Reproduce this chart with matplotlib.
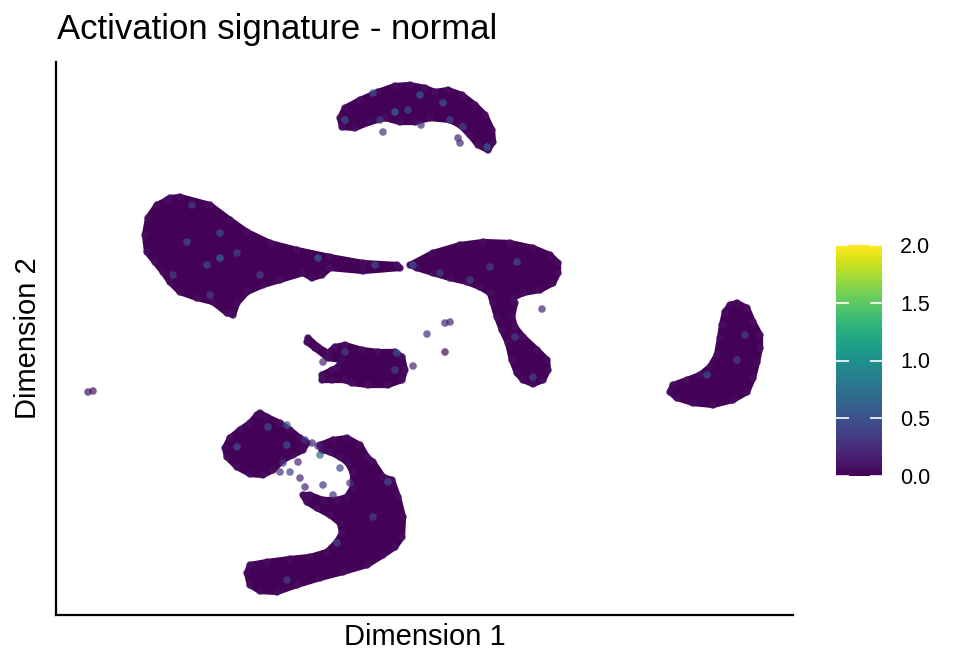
import numpy as np
import matplotlib
matplotlib.use("Agg")
import matplotlib.pyplot as plt
from matplotlib.colors import Normalize
from matplotlib.cm import ScalarMappable

# cluster outlines (Dimension 1, Dimension 2)
top_x = [28.4, 28.9, 30.4, 32.2, 33.9, 35.4, 36.9, 37.9, 39.2, 40.6, 41.9, 42.9, 43.6,
         43.7, 43.2, 42.2, 41.4, 40.4, 39.4, 37.4, 35.9, 34.4, 32.9, 31.4, 29.9, 28.6]
top_y = [49.7, 50.7, 51.5, 52.3, 52.9, 53.0, 52.7, 52.3, 52.5, 52.0, 51.0, 50.0, 48.5,
         47.3, 46.5, 47.0, 48.0, 49.0, 49.5, 49.7, 49.3, 49.3, 49.7, 49.3, 48.7, 48.8]

left_x = [11.4, 12.4, 15.4, 17.4, 19.1, 21.4, 24.1, 27.4, 30.7, 34.1, 34.4, 30.7, 27.4,
          26.6, 25.6, 24.7, 22.4, 20.7, 19.1, 18.1, 17.7, 17.1, 15.7, 14.1, 12.4, 11.4,
          10.7, 9.9, 9.1, 8.9, 9.2, 10.1, 11.1]
left_y = [41.7, 41.8, 41.0, 39.5, 38.3, 37.2, 36.5, 35.8, 35.2, 35.0, 34.7, 34.4, 34.7,
          34.0, 33.7, 34.2, 33.5, 33.0, 32.3, 31.2, 30.0, 30.2, 31.3, 31.7, 32.3, 33.3,
          34.3, 35.3, 36.3, 38.0, 39.7, 41.0, 41.5]

mush_x = [35.4, 37.7, 40.4, 42.7, 45.4, 47.7, 49.4, 50.2, 50.2, 49.7, 48.4, 46.7, 45.7,
          45.9, 45.6, 45.9, 46.7, 48.1, 49.1, 49.2, 48.7, 47.7, 46.7, 46.1, 45.6, 45.2,
          44.6, 44.1, 43.7, 43.4, 42.4, 41.1, 39.4, 37.7, 36.1]
mush_y = [35.0, 36.2, 37.0, 37.3, 37.2, 36.7, 36.0, 35.2, 34.2, 33.2, 32.5, 32.2, 31.7,
          31.2, 29.8, 28.8, 27.8, 26.5, 25.5, 24.5, 23.5, 23.1, 23.5, 24.2, 25.5, 27.2,
          28.5, 29.8, 31.2, 32.2, 32.8, 33.3, 33.7, 34.2, 34.7]

mid_x = [25.2, 26.2, 27.2, 27.9, 28.9, 30.6, 32.2, 33.9, 34.6, 34.9, 34.6, 33.2, 31.2,
         29.6, 28.9, 27.6, 26.6, 26.6, 27.6, 28.2, 28.6, 27.2, 25.9, 25.1]
mid_y = [27.7, 26.8, 26.2, 26.8, 27.0, 26.5, 26.3, 26.3, 25.8, 24.5, 23.5, 23.0, 23.0,
         23.2, 23.5, 23.5, 23.5, 24.0, 24.5, 24.8, 25.5, 25.7, 26.7, 27.3]

cres_x = [68.1, 69.1, 69.7, 70.4, 70.4, 70.1, 69.7, 69.1, 67.7, 65.7, 63.7, 62.1, 61.4,
          61.7, 63.1, 64.4, 65.4, 66.1, 66.4, 66.6, 66.9, 67.4]
cres_y = [31.2, 30.7, 29.3, 28.0, 26.7, 25.3, 23.7, 22.3, 21.5, 21.0, 21.2, 21.7, 22.3,
          23.0, 23.5, 24.0, 24.8, 26.0, 27.7, 29.0, 30.3, 31.0]

lobe_x = [20.4, 21.1, 22.4, 23.4, 24.4, 25.1, 24.7, 23.7, 22.7, 21.7, 20.7, 19.4, 18.1,
          17.1, 16.9, 17.4, 18.4, 19.4, 20.1]
lobe_y = [20.2, 19.8, 19.2, 18.5, 17.7, 17.2, 16.5, 16.0, 15.5, 14.5, 14.0, 14.1, 14.8,
          15.8, 16.7, 17.7, 18.5, 19.2, 20.0]

body_x = [26.4, 27.7, 29.1, 30.4, 31.1, 31.7, 32.7, 33.6, 34.2, 34.7, 34.6, 33.9, 32.7,
          31.1, 28.7, 26.4, 24.1, 22.1, 20.4, 19.4, 19.1, 19.4, 21.1, 23.4, 25.4, 27.1,
          28.1, 28.6, 28.4, 27.4, 26.1, 25.1, 24.7, 25.4, 26.7, 28.1, 29.1, 29.7, 29.7,
          29.2, 28.4, 27.4, 26.6]
body_y = [17.0, 17.5, 17.7, 17.0, 15.8, 15.3, 13.8, 13.5, 11.8, 9.8, 7.8, 6.8, 6.0,
          5.0, 4.3, 3.7, 3.0, 2.3, 2.4, 3.0, 4.2, 5.0, 5.3, 5.6, 5.8, 6.3, 7.3, 8.2,
          9.2, 10.0, 10.7, 11.3, 12.0, 12.0, 11.5, 11.5, 11.8, 12.8, 14.2, 15.2, 15.8,
          16.3, 16.5]

clusters_x = [top_x, left_x, mush_x, mid_x, cres_x, lobe_x, body_x]
clusters_y = [top_y, left_y, mush_y, mid_y, cres_y, lobe_y, body_y]
fill_score = 0.01
edge_score = 0.08

# single cells with their activation score
cell_x = [32.7, 36.5, 40.4, 40.2,
          36.4, 35.2, 38.7, 39.4, 32.4, 28.9, 40.7, 43.1, 31.7, 33.9,
          16.4, 15.1, 13.1, 11.7, 16.4, 20.4, 18.1, 13.6, 15.4, 31.9, 26.2,
          35.7, 46.1, 43.4, 38.4, 41.4, 47.7, 45.9,
          28.9, 34.1, 33.9,
          23.1, 18.1, 21.2, 23.1, 26.4, 28.4, 33.2, 31.7, 23.1, 28.1,
          68.9, 65.1, 68.1,
          37.1, 38.9, 39.4, 38.9, 35.7, 26.7, 48.6, 3.2, 3.7,
          24.9, 25.6, 26.2, 22.7, 22.4, 23.4, 24.2, 24.4, 24.9, 26.7, 27.7, 29.4]
cell_y = [48.3, 49.0, 47.2, 47.7,
          52.0, 50.5, 51.2, 49.5, 49.5, 49.5, 48.8, 46.8, 52.2, 50.3,
          35.7, 35.0, 37.3, 34.0, 38.2, 34.0, 36.2, 41.0, 32.0, 35.0, 35.7,
          35.0, 35.3, 34.8, 34.2, 33.5, 23.8, 27.8,
          26.3, 26.2, 24.5,
          19.0, 16.8, 18.8, 17.0, 16.0, 14.7, 13.3, 9.8, 3.5, 7.2,
          28.0, 24.0, 25.5,
          28.1, 29.2, 29.3, 26.3, 24.9, 25.3, 30.6, 22.3, 22.4,
          17.5, 17.2, 16.9, 15.2, 14.3, 14.3, 15.3, 13.7, 12.8, 13.0, 12.0, 13.2]
cell_score = [0.3, 0.3, 0.2, 0.2,
              0.6, 0.5, 0.5, 0.4, 0.4, 0.5, 0.4, 0.6, 0.5, 0.7,
              0.7, 0.5, 0.5, 0.4, 0.5, 0.4, 0.4, 0.4, 0.4, 0.5, 0.6,
              0.5, 0.5, 0.4, 0.4, 0.4, 0.4, 0.4,
              0.4, 0.5, 0.4,
              0.6, 0.5, 0.5, 0.5, 0.7, 0.4, 0.5, 0.4, 0.4, 0.4,
              0.4, 0.5, 0.4,
              0.3, 0.2, 0.2, 0.05, 0.2, 0.2, 0.2, 0.1, 0.1,
              0.3, 0.2, 0.2, 0.3, 0.3, 0.4, 0.2, 0.2, 0.2, 0.3, 0.3, 0.3]

cmap = plt.get_cmap("viridis")
norm = Normalize(vmin=0, vmax=2)

fig = plt.figure(figsize=(9.6, 6.72), dpi=100)
ax = fig.add_axes([56 / 960, 57 / 672, 737 / 960, 553 / 672])

for cx, cy in zip(clusters_x, clusters_y):
    # the stroke pads the outline by about half a dot, as the points do
    ax.fill(cx, cy, facecolor=cmap(norm(fill_score)), edgecolor=cmap(norm(fill_score)),
            lw=4.5, joinstyle="round", zorder=1)
    ax.scatter(cx, cy, c=[edge_score] * len(cx), cmap=cmap, norm=norm,
               s=30, alpha=0.7, lw=0, zorder=2)

ax.scatter(cell_x, cell_y, c=cell_score, cmap=cmap, norm=norm,
           s=30, alpha=0.7, lw=0, zorder=3)

ax.set_xlim(0, 73.7)
ax.set_ylim(0, 55.3)
ax.set_xticks([])
ax.set_yticks([])
for side in ["top", "right"]:
    ax.spines[side].set_visible(False)
for side in ["left", "bottom"]:
    ax.spines[side].set_linewidth(1.6)

ax.set_xlabel("Dimension 1", fontsize=21, family="Liberation Sans", labelpad=6)
ax.set_ylabel("Dimension 2", fontsize=21, family="Liberation Sans", labelpad=10)
fig.text(57 / 960, 1 - 30 / 672, "Activation signature - normal", fontsize=25,
         family="Liberation Sans", va="center", ha="left")

cax = fig.add_axes([836 / 960, 196 / 672, 46 / 960, 231 / 672])
cb = fig.colorbar(ScalarMappable(norm=norm, cmap=cmap), cax=cax)
cb.outline.set_visible(False)
cb.set_ticks([0, 0.5, 1.0, 1.5, 2.0])
cb.set_ticklabels(["0.0", "0.5", "1.0", "1.5", "2.0"])
cax.tick_params(direction="in", left=True, right=True, color="white",
                length=9, width=1.2, labelsize=15.5, pad=13)
for lab in cax.get_yticklabels():
    lab.set_family("Liberation Sans")

fig.savefig("out.png", dpi=100)
